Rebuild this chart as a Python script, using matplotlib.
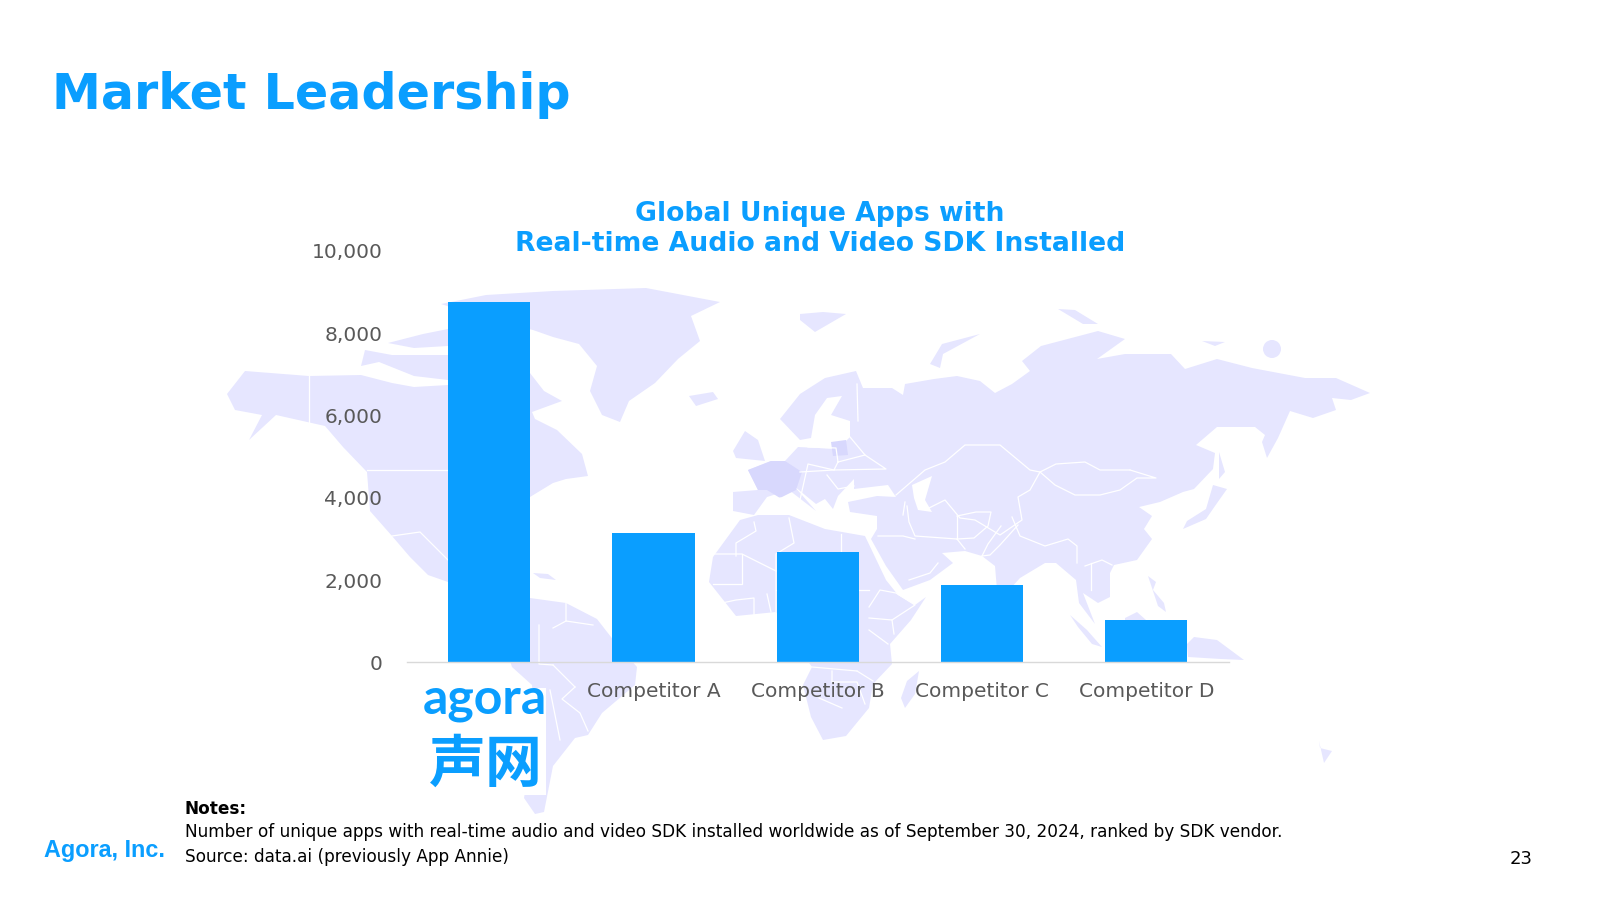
import matplotlib
matplotlib.use("Agg")
import matplotlib.pyplot as plt
from matplotlib.patches import Polygon, Ellipse, Rectangle

# chart data
categories = ["agora", "Competitor A", "Competitor B", "Competitor C", "Competitor D"]
unique_apps = [8760, 3150, 2680, 1880, 1020]
y_ticks = [0, 2000, 4000, 6000, 8000, 10000]

BLUE = "#0A9EFF"
MAP = "#E6E6FF"
MAP_DARK = "#D8D8FD"
GREY = "#595959"

# background map, rough outlines in page pixels
north_america = [(227,394),(245,371),(309,376),(361,375),(392,383),(414,387),(448,385),(490,380),(530,373),
                 (544,391),(562,401),(532,412),(535,419),(557,430),(582,454),(588,476),(566,479),(553,483),
                 (530,497),(500,540),(490,590),(470,600),(448,582),(428,575),(410,557),(392,536),(370,511),
                 (367,472),(343,447),(325,426),(276,415),(249,440),(262,415),(235,410)]
south_america = [(530,598),(566,603),(597,619),(611,637),(637,667),(635,685),(602,713),(588,735),(575,738),
                 (553,766),(544,812),(535,814),(524,798),(535,731),(532,685),(512,667),(500,630),(510,600)]
greenland = [(441,304),(486,295),(553,291),(646,288),(720,302),(691,316),(700,341),(678,359),(655,383),
             (629,401),(620,422),(602,415),(590,391),(597,366),(579,344),(553,337),(533,330),(490,320)]
arctic_1 = [(365,350),(392,355),(448,355),(448,380),(414,376),(379,362),(361,366)]
arctic_2 = [(388,343),(423,334),(448,329),(448,346),(414,348)]
iceland = [(689,396),(713,392),(718,399),(696,406)]
uk = [(745,431),(758,440),(765,461),(736,458),(733,451)]
eurasia = [(733,511),(733,492),(758,490),(748,470),(771,461),(785,461),(798,447),(838,449),(850,437),(850,421),
           (831,415),(842,396),(827,398),(815,415),(811,438),(800,440),(780,419),(800,394),(825,378),(856,371),
           (863,388),(892,388),(903,395),(905,384),(934,379),(957,376),(980,381),(995,393),(1012,384),(1030,371),
           (1022,361),(1041,346),(1098,331),(1125,339),(1097,359),(1125,354),(1171,354),(1185,369),(1217,359),
           (1252,368),(1305,378),(1336,378),(1370,393),(1351,400),(1332,398),(1336,410),(1313,418),(1290,411),
           (1278,438),(1267,458),(1262,442),(1265,435),(1255,427),(1217,427),(1196,445),(1215,453),(1213,469),
           (1194,489),(1183,492),(1160,502),(1139,507),(1152,516),(1144,529),(1152,539),(1137,560),(1114,565),
           (1110,573),(1110,597),(1098,603),(1083,593),(1095,624),(1079,603),(1076,580),(1056,563),(1045,563),
           (1020,578),(1009,590),(997,590),(995,566),(982,556),(965,551),(942,553),(953,563),(930,580),(903,590),
           (886,566),(871,539),(877,529),(877,516),(850,512),(848,502),(877,496),(896,497),(888,485),(854,489),
           (854,479),(838,496),(833,509),(825,499),(816,504),(794,486),(816,511),(789,490),(767,497),(754,515)]
africa = [(740,520),(758,515),(789,515),(825,529),(865,536),(886,580),(898,595),(915,605),(926,597),(911,620),
          (890,644),(892,664),(873,684),(869,708),(846,736),(823,740),(811,717),(803,685),(812,667),(800,650),
          (790,625),(776,612),(736,616),(709,582),(713,557)]
madagascar = [(919,671),(915,694),(905,708),(901,698),(907,681)]
japan = [(1227,489),(1215,506),(1206,519),(1183,529),(1187,521),(1206,509),(1213,485)]
sakhalin = [(1219,452),(1225,472),(1219,479)]
philippines = [(1148,576),(1156,582),(1153,590),(1164,603),(1166,612),(1158,606)]
sumatra = [(1070,615),(1087,630),(1102,647),(1092,644),(1078,627)]
borneo = [(1125,618),(1137,612),(1146,620),(1146,626),(1125,626)]
new_guinea = [(1187,644),(1194,637),(1217,640),(1244,660),(1221,659),(1188,657)]
new_zealand = [(1320,748),(1332,751),(1324,763),(1319,741)]
svalbard = [(800,314),(823,312),(846,314),(815,332),(800,320)]
novaya = [(930,364),(942,344),(980,334),(943,354),(940,368)]
severnaya = [(1058,309),(1075,310),(1098,324),(1083,324)]
siberian = [(1202,341),(1225,342),(1215,346)]
cuba = [(533,573),(548,574),(556,580),(540,578)]
land = [north_america, south_america, greenland, arctic_1, arctic_2, iceland, uk, eurasia, africa, madagascar,
        japan, sakhalin, philippines, sumatra, borneo, new_guinea, new_zealand, svalbard, novaya, severnaya,
        siberian, cuba]

france = [(771,461),(785,461),(802,472),(796,490),(780,498),(767,490),(758,490),(748,470)]
lithuania = [(831,442),(846,440),(848,455),(833,456)]
caspian = [(912,485),(932,476),(925,500),(932,512),(918,510),(914,498)]

borders = [
    [(309,376),(309,422)],
    [(367,470),(448,470)],
    [(392,536),(420,532),(448,560)],
    [(896,495),(925,470),(945,462),(965,445),(1000,445),(1030,470),(1040,472),(1056,464),(1085,462),(1100,470),(1130,470)],
    [(1040,472),(1055,485),(1075,495),(1100,495),(1120,490),(1137,478),(1156,478),(1130,470)],
    [(1040,472),(1030,490),(1018,497),(1022,520),(1000,535),(975,520),(960,518),(945,500),(925,510)],
    [(1018,525),(1000,545),(990,555),(982,556)],
    [(907,506),(909,522),(915,536),(957,539),(965,549)],
    [(957,516),(957,539)],
    [(957,516),(976,512),(991,512),(988,526),(974,538),(957,539)],
    [(1001,526),(988,544),(982,556)],
    [(1012,517),(1020,536),(1045,546),(1068,539),(1077,546),(1077,563)],
    [(1085,566),(1102,560),(1112,565)],
    [(1091,563),(1091,590)],
    [(878,536),(903,536),(915,539)],
    [(909,580),(930,573),(938,563)],
    [(905,502),(903,515)],
    # europe
    [(780,498),(800,500),(808,464),(834,470)],
    [(808,447),(836,448),(838,462),(834,470),(886,469),(865,455),(838,462)],
    [(800,472),(834,470)],
    [(827,475),(838,489),(854,486)],
    [(857,384),(858,421)],
    [(850,437),(865,455)],
    # africa
    [(709,554),(742,554),(776,571)],
    [(742,554),(742,584),(713,584)],
    [(754,522),(756,531),(736,543),(736,556)],
    [(789,518),(794,543),(776,554),(776,612)],
    [(841,534),(841,590)],
    [(776,590),(841,590),(869,590)],
    [(722,603),(736,600),(754,598),(754,616)],
    [(767,594),(771,612)],
    [(869,607),(880,590),(896,593),(915,605),(892,620),(869,618)],
    [(892,620),(894,634)],
    [(869,630),(888,644)],
    [(857,671),(873,681)],
    [(832,671),(832,682),(857,682),(865,704)],
    [(819,698),(842,708)],
    [(812,667),(857,671)],
    # south america
    [(566,603),(566,621),(593,625)],
    [(566,621),(553,628)],
    [(539,625),(539,664),(553,665)],
    [(575,687),(562,699),(580,713),(588,731)],
    [(553,665),(575,687)],
    [(550,690),(560,740)],
]

fig = plt.figure(figsize=(16, 9), dpi=100)

# full page axes in pixels, for the map and the slide texts
page = fig.add_axes([0, 0, 1, 1], zorder=0)
page.set_xlim(0, 1600)
page.set_ylim(900, 0)
page.axis("off")

for shape in land:
    page.add_patch(Polygon(shape, closed=True, fc=MAP, ec="none"))
page.add_patch(Ellipse((1272, 349), 18, 18, fc=MAP, ec="none"))
page.add_patch(Polygon(caspian, closed=True, fc="white", ec="none"))
for line in borders:
    xs, ys = zip(*line)
    page.plot(xs, ys, color="white", lw=0.9)
page.add_patch(Polygon(france, closed=True, fc=MAP_DARK, ec="none"))
page.add_patch(Polygon(lithuania, closed=True, fc=MAP_DARK, ec="none"))

# logo sits on a white box
page.add_patch(Rectangle((424, 688), 122, 107, fc="white", ec="none"))
page.text(485, 699, "agora", color=BLUE, fontsize=36, fontweight="bold", family="Lato", ha="center", va="center")
page.text(486, 765, "声网", color=BLUE, fontsize=41, fontweight="bold", family="Noto Sans CJK SC", ha="center", va="center")

page.text(52, 95, "Market Leadership", color=BLUE, fontsize=35.4, fontweight="bold", va="center")
page.text(820, 214, "Global Unique Apps with", color=BLUE, fontsize=19.2, fontweight="bold", ha="center", va="center")
page.text(820, 244, "Real-time Audio and Video SDK Installed", color=BLUE, fontsize=19.2, fontweight="bold", ha="center", va="center")

page.text(185, 809, "Notes:", color="black", fontsize=12.2, fontweight="bold", va="center")
page.text(185, 832, "Number of unique apps with real-time audio and video SDK installed worldwide as of September 30, 2024, ranked by SDK vendor.", color="black", fontsize=12.2, va="center")
page.text(185, 857, "Source: data.ai (previously App Annie)", color="black", fontsize=12.2, va="center")
page.text(44, 850, "Agora, Inc.", color=BLUE, fontsize=16.8, fontweight="bold", family="Liberation Sans", va="center")
page.text(1521, 859, "23", color="black", fontsize=13, ha="center", va="center")

# bar chart on top of the map
ax = fig.add_axes([407/1600, (900-662.3)/900, 821.5/1600, 411.3/900], zorder=1)
ax.patch.set_alpha(0)
ax.bar(range(len(categories)), unique_apps, width=0.5, color=BLUE)
ax.set_xlim(-0.5, 4.5)
ax.set_ylim(0, 10000)
ax.set_yticks(y_ticks)
ax.set_yticklabels([f"{v:,}" for v in y_ticks])
ax.set_xticks(range(len(categories)))
ax.set_xticklabels([""] + categories[1:])
ax.tick_params(axis="both", length=0, labelsize=14.5, labelcolor=GREY)
ax.tick_params(axis="y", pad=17.8)
ax.tick_params(axis="x", pad=14)
for side in ["top", "left", "right"]:
    ax.spines[side].set_visible(False)
ax.spines["bottom"].set_color("#D9D9D9")
ax.spines["bottom"].set_linewidth(1.0)

fig.savefig("out.png", dpi=100)
